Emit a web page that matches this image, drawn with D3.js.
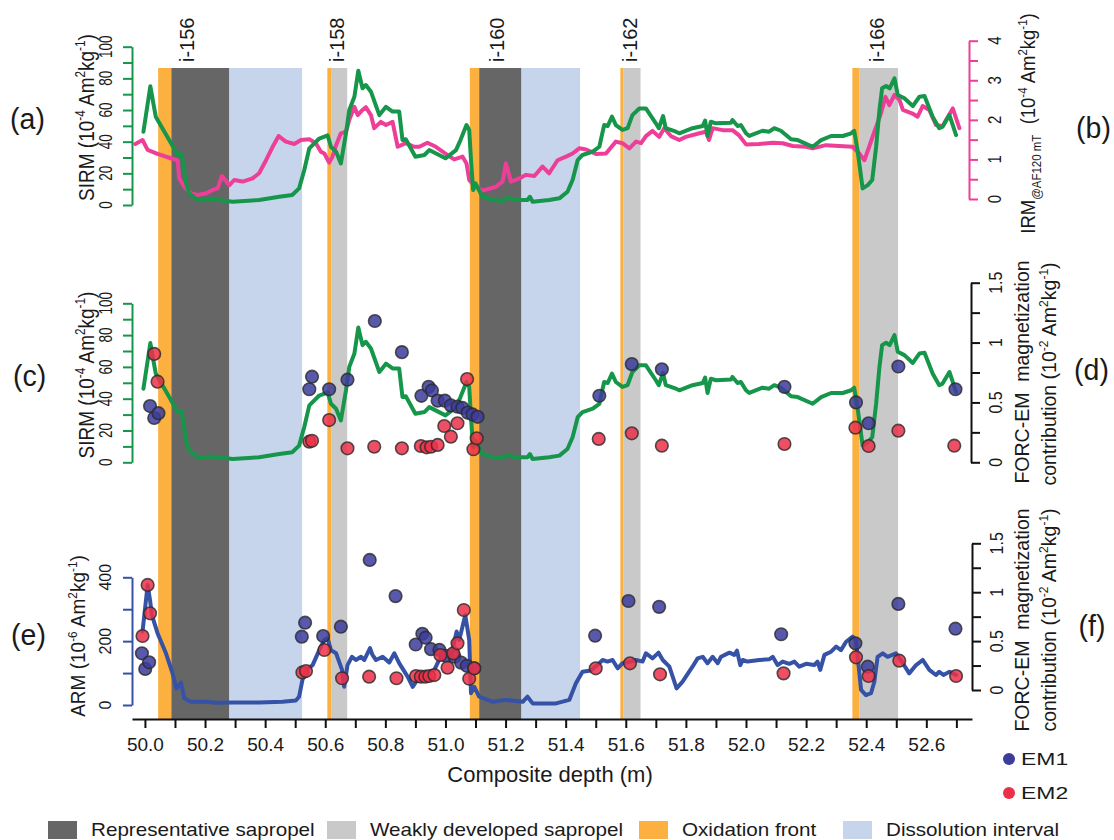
<!DOCTYPE html>
<html>
<head>
<meta charset="utf-8">
<script src="https://cdn.jsdelivr.net/npm/d3@7"></script>
<style>
  body { margin: 0; background: #fff; }
  svg { display: block; }
  text { font-family: "Liberation Sans", Arial, sans-serif; fill: #1a1a1a; white-space: pre; }
</style>
</head>
<body>
<svg id="chart" width="1114" height="840"></svg>
<script>
// ---- shaded intervals (composite depth, m) ----
const oxidationFronts = [[50.044, 50.0875], [50.607, 50.62], [51.081, 51.112], [51.582, 51.592], [52.354, 52.377]];
const representativeSapropels = [[50.0875, 50.28], [51.112, 51.252]];
const weakSapropels = [[50.62, 50.673], [51.592, 51.649], [52.377, 52.506]];
const dissolutionIntervals = [[50.28, 50.523], [51.252, 51.448]];
const intervalNames = ["i-156", "i-158", "i-160", "i-162", "i-166"];
const intervalNameDepths = [50.14, 50.64, 51.172, 51.615, 52.437];

// ---- SIRM (10^-4 Am2/kg), panels a and c ----
const sirm = [
  [49.995, 46.3], [50.018, 75], [50.036, 55.8], [50.087, 39], [50.109, 31.6], [50.122, 32.2], [50.136, 14.7],
  [50.147, 7.4], [50.175, 3.2], [50.225, 3.6], [50.292, 2.1], [50.38, 3.2], [50.447, 5.2], [50.49, 6.3],
  [50.513, 10.5], [50.53, 22], [50.547, 35.8], [50.58, 42], [50.608, 44], [50.619, 36.8], [50.636, 33.7],
  [50.652, 26.3], [50.669, 45.3], [50.68, 60], [50.697, 68.4], [50.71, 84.8], [50.724, 73.7], [50.735, 75.8],
  [50.752, 71.6], [50.78, 56.8], [50.802, 62], [50.824, 59], [50.846, 59], [50.857, 41], [50.868, 41.5],
  [50.9, 30.5], [50.93, 31.6], [50.946, 34.7], [51.0, 29.5], [51.035, 34.7], [51.05, 41], [51.07, 50.5],
  [51.079, 47.4], [51.085, 28.4], [51.092, 9.5], [51.1, 13.7], [51.123, 5.2], [51.157, 3.2], [51.19, 2.7],
  [51.207, 4.6], [51.235, 3.2], [51.273, 3.2], [51.281, 5.2], [51.29, 2.1], [51.345, 3.2], [51.379, 4.2],
  [51.406, 8.4], [51.423, 15.8], [51.44, 28.4], [51.456, 31.6], [51.49, 33.7], [51.512, 36.8], [51.528, 50.5],
  [51.54, 49.9], [51.554, 55.8], [51.567, 50.5], [51.589, 47.4], [51.606, 48.5], [51.622, 56.8], [51.645, 61],
  [51.667, 61], [51.7, 51.6], [51.71, 48.5], [51.724, 56.2], [51.733, 48.5], [51.767, 46.3], [51.778, 45.3],
  [51.822, 48.5], [51.856, 49.9], [51.864, 53.3], [51.872, 43.6], [51.883, 52.6], [51.9, 51.6], [51.95, 52],
  [51.955, 53.7], [51.972, 49.9], [51.983, 50.5], [52.0, 45.3], [52.011, 43.6], [52.055, 46.9], [52.077, 46.3],
  [52.094, 48.5], [52.116, 46.9], [52.15, 41.5], [52.172, 41], [52.222, 36.8], [52.25, 41], [52.283, 43.6],
  [52.322, 43.6], [52.35, 45.3], [52.36, 46.9], [52.371, 34.7], [52.388, 10.5], [52.405, 12.6], [52.42, 15.8],
  [52.433, 36.8], [52.444, 60], [52.453, 73.7], [52.466, 75.2], [52.478, 73.7], [52.494, 80], [52.505, 69.5],
  [52.527, 67.4], [52.555, 62.5], [52.577, 68.4], [52.594, 68.9], [52.621, 55.8], [52.643, 48.5], [52.654, 49.5],
  [52.677, 56.8], [52.699, 44.2]
];

// ---- IRM @AF120 mT (10^-4 Am2/kg), panel b ----
const irm = [
  [49.968, 1.39], [49.992, 1.49], [50.009, 1.24], [50.042, 1.14], [50.086, 1.03], [50.109, 0.98], [50.114, 0.52],
  [50.131, 0.31], [50.153, 0.14], [50.175, 0.10], [50.203, 0.14], [50.225, 0.23], [50.242, 0.27], [50.256, 0.58],
  [50.281, 0.35], [50.297, 0.48], [50.325, 0.44], [50.358, 0.52], [50.38, 0.65], [50.403, 0.98], [50.425, 1.32],
  [50.445, 1.59], [50.469, 1.45], [50.497, 1.39], [50.519, 1.49], [50.547, 1.51], [50.569, 1.41], [50.586, 1.19],
  [50.597, 1.15], [50.613, 0.92], [50.624, 1.07], [50.636, 1.36], [50.652, 1.66], [50.669, 1.70], [50.68, 2.0],
  [50.697, 2.33], [50.708, 2.12], [50.724, 2.25], [50.735, 2.32], [50.752, 2.12], [50.763, 1.79], [50.785, 1.95],
  [50.802, 1.87], [50.824, 1.95], [50.841, 1.32], [50.868, 1.41], [50.896, 1.32], [50.913, 1.32], [50.94, 1.42],
  [50.968, 1.32], [51.007, 1.11], [51.029, 1.0], [51.057, 1.07], [51.07, 0.9], [51.079, 0.48], [51.101, 0.31],
  [51.123, 0.21], [51.168, 0.31], [51.19, 0.44], [51.201, 0.9], [51.218, 0.44], [51.246, 0.52], [51.268, 0.61],
  [51.296, 0.58], [51.323, 0.82], [51.345, 0.65], [51.373, 0.98], [51.401, 1.07], [51.423, 1.15], [51.445, 1.28],
  [51.468, 1.25], [51.501, 1.14], [51.534, 1.15], [51.567, 1.45], [51.589, 1.41], [51.612, 1.28], [51.634, 1.45],
  [51.651, 1.41], [51.667, 1.59], [51.689, 1.72], [51.711, 1.57], [51.728, 1.79], [51.75, 1.59], [51.778, 1.49],
  [51.8, 1.57], [51.845, 1.66], [51.867, 1.70], [51.877, 1.49], [51.889, 1.79], [51.922, 1.74], [51.955, 1.74],
  [51.978, 1.6], [52.0, 1.38], [52.044, 1.39], [52.089, 1.42], [52.122, 1.41], [52.155, 1.34], [52.2, 1.32],
  [52.222, 1.28], [52.266, 1.36], [52.31, 1.34], [52.355, 1.32], [52.377, 1.15], [52.394, 0.98], [52.41, 1.32],
  [52.427, 1.70], [52.449, 2.16], [52.464, 2.58], [52.477, 2.37], [52.494, 2.63], [52.511, 2.5], [52.522, 2.25],
  [52.554, 2.16], [52.571, 2.08], [52.588, 2.35], [52.61, 2.25], [52.632, 1.87], [52.654, 1.84], [52.688, 2.29],
  [52.71, 1.79]
];

// ---- ARM (10^-6 Am2/kg), panel e ----
const arm = [
  [49.992, 230], [50.0, 298], [50.009, 376], [50.017, 329], [50.023, 282], [50.042, 225], [50.07, 162],
  [50.092, 99], [50.105, 52], [50.12, 70], [50.131, 21], [50.153, 10], [50.203, 10], [50.236, 7], [50.292, 8],
  [50.38, 8], [50.458, 10], [50.502, 14], [50.513, 26], [50.524, 78], [50.536, 110], [50.558, 125], [50.58, 172],
  [50.597, 204], [50.608, 209], [50.619, 172], [50.636, 162], [50.656, 110], [50.663, 57], [50.674, 125],
  [50.689, 151], [50.702, 141], [50.719, 151], [50.73, 141], [50.749, 178], [50.757, 157], [50.769, 141],
  [50.791, 151], [50.813, 133], [50.83, 162], [50.846, 131], [50.874, 89], [50.891, 57], [50.913, 89],
  [50.935, 99], [50.963, 110], [50.979, 141], [50.996, 162], [51.018, 151], [51.037, 230], [51.046, 204],
  [51.066, 282], [51.079, 204], [51.085, 37], [51.096, 57], [51.112, 26], [51.157, 10], [51.201, 16],
  [51.257, 10], [51.273, 26], [51.29, 5], [51.368, 5], [51.412, 16], [51.434, 68], [51.456, 104], [51.484, 108],
  [51.512, 131], [51.523, 141], [51.539, 136], [51.556, 141], [51.573, 115], [51.589, 131], [51.617, 136],
  [51.634, 141], [51.656, 136], [51.667, 162], [51.689, 146], [51.709, 164], [51.723, 141], [51.745, 120],
  [51.769, 52], [51.789, 73], [51.822, 120], [51.839, 146], [51.856, 151], [51.872, 131], [51.889, 151],
  [51.906, 131], [51.917, 151], [51.945, 164], [51.961, 157], [51.97, 170], [51.981, 125], [51.989, 141],
  [52.005, 136], [52.044, 141], [52.077, 143], [52.089, 151], [52.105, 125], [52.122, 136], [52.144, 129],
  [52.161, 136], [52.177, 120], [52.2, 129], [52.227, 125], [52.238, 136], [52.247, 110], [52.261, 157],
  [52.283, 167], [52.3, 183], [52.316, 172], [52.333, 198], [52.355, 214], [52.366, 204], [52.375, 120],
  [52.383, 47], [52.399, 31], [52.416, 37], [52.427, 73], [52.438, 151], [52.455, 162], [52.471, 151],
  [52.499, 162], [52.522, 131], [52.543, 99], [52.566, 125], [52.588, 141], [52.61, 110], [52.632, 94],
  [52.643, 104], [52.657, 94], [52.677, 104], [52.699, 94]
];

// ---- FORC end-member contributions (10^-2 Am2/kg) ----
const em1Sirm = [
  [50.017, 0.47], [50.031, 0.37], [50.045, 0.41], [50.547, 0.61], [50.556, 0.715], [50.613, 0.61], [50.674, 0.69],
  [50.765, 1.18], [50.855, 0.92], [50.92, 0.555], [50.944, 0.63], [50.955, 0.60], [50.974, 0.515], [50.998, 0.515],
  [51.018, 0.475], [51.04, 0.465], [51.056, 0.455], [51.074, 0.415], [51.09, 0.40], [51.107, 0.38], [51.512, 0.556],
  [51.62, 0.82], [51.72, 0.777], [52.128, 0.63], [52.366, 0.50], [52.408, 0.326], [52.507, 0.80], [52.697, 0.61]
];
const em2Sirm = [
  [50.031, 0.905], [50.042, 0.673], [50.547, 0.172], [50.556, 0.18], [50.613, 0.353], [50.674, 0.117],
  [50.763, 0.13], [50.855, 0.117], [50.918, 0.136], [50.937, 0.125], [50.952, 0.13], [50.974, 0.145],
  [50.996, 0.303], [51.018, 0.214], [51.04, 0.326], [51.072, 0.695], [51.093, 0.109], [51.104, 0.20],
  [51.51, 0.195], [51.62, 0.242], [51.72, 0.139], [52.128, 0.153], [52.364, 0.289], [52.408, 0.136],
  [52.507, 0.264], [52.693, 0.139]
];
const em1Arm = [
  [49.99, 0.375], [50.001, 0.215], [50.014, 0.283], [50.522, 0.545], [50.533, 0.688], [50.593, 0.552],
  [50.652, 0.647], [50.748, 1.33], [50.834, 0.96], [50.901, 0.465], [50.923, 0.575], [50.934, 0.535],
  [50.952, 0.417], [50.98, 0.41], [51.001, 0.35], [51.03, 0.34], [51.052, 0.28], [51.071, 0.247], [51.095, 0.222],
  [51.498, 0.555], [51.609, 0.91], [51.711, 0.85], [52.117, 0.57], [52.364, 0.477], [52.405, 0.238],
  [52.507, 0.88], [52.697, 0.627]
];
const em2Arm = [
  [49.992, 0.552], [50.009, 1.074], [50.017, 0.784], [50.524, 0.18], [50.536, 0.194], [50.597, 0.409],
  [50.656, 0.12], [50.746, 0.136], [50.837, 0.12], [50.902, 0.143], [50.918, 0.136], [50.933, 0.136],
  [50.946, 0.143], [50.963, 0.153], [50.983, 0.358], [51.007, 0.228], [51.026, 0.375], [51.04, 0.477],
  [51.061, 0.818], [51.079, 0.115], [51.096, 0.222], [51.5, 0.222], [51.614, 0.273], [51.714, 0.16],
  [52.125, 0.17], [52.366, 0.334], [52.408, 0.143], [52.51, 0.30], [52.699, 0.143]
];

// ---- ticks ----
const depthTicks = [50.0, 50.1, 50.2, 50.3, 50.4, 50.5, 50.6, 50.7, 50.8, 50.9, 51.0, 51.1, 51.2, 51.3,
  51.4, 51.5, 51.6, 51.7, 51.8, 51.9, 52.0, 52.1, 52.2, 52.3, 52.4, 52.5, 52.6, 52.7];
const depthLabels = ["50.0", "50.2", "50.4", "50.6", "50.8", "51.0", "51.2", "51.4", "51.6", "51.8",
  "52.0", "52.2", "52.4", "52.6"];
const sirmTicks = [0, 10, 20, 30, 40, 50, 60, 70, 80, 90, 100];
const sirmLabels = [0, 20, 40, 60, 80, 100];
const irmTicks = [0, 0.5, 1, 1.5, 2, 2.5, 3, 3.5, 4];
const irmLabels = [0, 1, 2, 3, 4];
const forcTicks = [0, 0.25, 0.5, 0.75, 1, 1.25, 1.5];
const forcLabels = ["0", "0.5", "1", "1.5"];
const armTicks = [0, 100, 200, 300, 400];
const armLabels = [0, 200, 400];

const colors = {
  sirm: "#15964a", irm: "#ee3f98", arm: "#3552a6", black: "#111",
  em1: "#3c3c9c", em2: "#ec3049",
  oxidation: "#fbb040", sapropel: "#666666", weak: "#c9c9c9", dissolution: "#c6d4ec"
};

const svg = d3.select("#chart");
const x = d3.scaleLinear().domain([49.957, 52.752]).range([132, 972]);
const bandTop = 68, bandBottom = 719;

// text helper: parts are strings or [string, "sup" | "sub"]
const addText = (parent, o) => {
  const size = o.size;
  const base = o.central === false ? 0 : 0.35 * size;
  const t = parent.append("text")
    .attr("transform", `translate(${o.x},${o.y}) scale(${o.kx || 1},1) rotate(${o.rot || 0})`)
    .attr("text-anchor", o.anchor || "middle")
    .style("font-size", size + "px");
  let shift = 0;
  (o.parts || [o.text]).forEach((p, i) => {
    const [str, kind] = Array.isArray(p) ? p : [p, null];
    const target = kind === "sup" ? -0.4 * size : kind === "sub" ? 0.3 * size : 0;
    t.append("tspan")
      .attr("dy", (i === 0 ? base : 0) + target - shift)
      .style("font-size", kind ? (0.62 * size) + "px" : null)
      .text(str);
    shift = target;
  });
  return t;
};

// ---- interval shading ----
const bandLayer = svg.append("g");
const drawBands = (list, color) => {
  bandLayer.selectAll(null).data(list).enter().append("rect")
    .attr("x", d => x(d[0]))
    .attr("width", d => x(d[1]) - x(d[0]))
    .attr("y", bandTop)
    .attr("height", bandBottom - bandTop)
    .attr("fill", color);
};
drawBands(dissolutionIntervals, colors.dissolution);
drawBands(representativeSapropels, colors.sapropel);
drawBands(weakSapropels, colors.weak);
drawBands(oxidationFronts, colors.oxidation);

intervalNames.forEach((name, i) => {
  addText(svg, { x: x(intervalNameDepths[i]), y: 62, rot: -90, size: 20, anchor: "start", text: name });
});

// ---- axis helper ----
const drawAxis = (scale, side, xPos, values, color) => {
  const axis = (side === "left" ? d3.axisLeft(scale) : d3.axisRight(scale))
    .tickValues(values).tickSize(9).tickSizeOuter(0).tickFormat("");
  const a = svg.append("g").attr("transform", `translate(${xPos},0)`).call(axis);
  a.select(".domain").attr("stroke", color).attr("stroke-width", 2);
  a.selectAll(".tick line").attr("stroke", color).attr("stroke-width", 2);
};
const tickLabels = (scale, values, xPos, size, kx) => {
  values.forEach(v => addText(svg, { x: xPos, y: scale(+v), rot: -90, size, kx, text: String(v) }));
};

const lineOf = (y) => d3.line().x(d => x(d[0])).y(d => y(d[1])).curve(d3.curveLinear);
const drawLine = (data, y, color) => {
  svg.append("path").datum(data)
    .attr("d", lineOf(y))
    .attr("fill", "none")
    .attr("stroke", color)
    .attr("stroke-width", 4)
    .attr("stroke-linejoin", "round")
    .attr("stroke-linecap", "round");
};
const drawPoints = (data, y, color) => {
  svg.append("g").selectAll("circle").data(data).enter().append("circle")
    .attr("cx", d => x(d[0]))
    .attr("cy", d => y(d[1]))
    .attr("r", 6.3)
    .attr("fill", color)
    .attr("fill-opacity", 0.85)
    .attr("stroke", "#2a2a2a")
    .attr("stroke-opacity", 0.8)
    .attr("stroke-width", 1.6);
};

const unitParts = (exp) => [" (10", [exp, "sup"], " Am", ["2", "sup"], "kg", ["-1", "sup"], ")"];

// ---- panel (a)/(b) ----
const ySirmA = d3.scaleLinear().domain([0, 100]).range([205, 46.7]);
const yIrm = d3.scaleLinear().domain([0, 4]).range([199, 40.7]);
drawLine(irm, yIrm, colors.irm);
drawLine(sirm, ySirmA, colors.sirm);
drawAxis(ySirmA, "left", 132, sirmTicks, colors.sirm);
tickLabels(ySirmA, sirmLabels, 106, 13.5, 1.35);
addText(svg, { x: 86, y: 117.5, rot: -90, size: 19, kx: 1.2, parts: ["SIRM", ...unitParts("-4")] });
drawAxis(yIrm, "right", 969, irmTicks, colors.irm);
tickLabels(yIrm, irmLabels, 995, 15, 1.2);
addText(svg, { x: 1028, y: 123.5, rot: -90, size: 18.5, kx: 1.1,
  parts: ["IRM", ["@AF120 mT", "sub"], "  (10", ["-4", "sup"], " Am", ["2", "sup"], "kg", ["-1", "sup"], ")"] });

// ---- panel (c)/(d) ----
const ySirmC = d3.scaleLinear().domain([0, 100]).range([462.3, 303.3]);
const yForcD = d3.scaleLinear().domain([0, 1.5]).range([462.3, 282.7]);
drawLine(sirm, ySirmC, colors.sirm);
drawPoints(em1Sirm, yForcD, colors.em1);
drawPoints(em2Sirm, yForcD, colors.em2);
drawAxis(ySirmC, "left", 132, sirmTicks, colors.sirm);
tickLabels(ySirmC, sirmLabels, 106, 13.5, 1.35);
addText(svg, { x: 86.5, y: 375, rot: -90, size: 19, kx: 1.2, parts: ["SIRM", ...unitParts("-4")] });
drawAxis(yForcD, "right", 971, forcTicks, colors.black);
tickLabels(yForcD, forcLabels, 995.5, 16, 1.1);
addText(svg, { x: 1021.5, y: 372, rot: -90, size: 19.5, kx: 1.05, text: "FORC-EM  magnetization" });
addText(svg, { x: 1049, y: 374, rot: -90, size: 19.5, kx: 1.05, parts: ["contribution", ...unitParts("-2")] });

// ---- panel (e)/(f) ----
const yArm = d3.scaleLinear().domain([0, 400]).range([705, 577.3]);
const yForcF = d3.scaleLinear().domain([0, 1.5]).range([690, 543.3]);
drawLine(arm, yArm, colors.arm);
drawPoints(em1Arm, yForcF, colors.em1);
drawPoints(em2Arm, yForcF, colors.em2);
drawAxis(yArm, "left", 132, armTicks, colors.arm);
tickLabels(yArm, armLabels, 105, 16, 1.07);
addText(svg, { x: 78, y: 636, rot: -90, size: 19, kx: 1.1, parts: ["ARM", ...unitParts("-6")] });
drawAxis(yForcF, "right", 972, forcTicks, colors.black);
tickLabels(yForcF, forcLabels, 996.5, 16, 1.1);
addText(svg, { x: 1021.5, y: 620, rot: -90, size: 19.5, kx: 1.05, text: "FORC-EM  magnetization" });
addText(svg, { x: 1049, y: 620, rot: -90, size: 19.5, kx: 1.05, parts: ["contribution", ...unitParts("-2")] });

// ---- depth axis ----
const xAxis = svg.append("g").attr("transform", `translate(0,${bandBottom})`)
  .call(d3.axisBottom(x).tickValues(depthTicks).tickSize(9).tickSizeOuter(0)
    .tickFormat(d => depthLabels.includes(d.toFixed(1)) ? d.toFixed(1) : ""));
xAxis.select(".domain").attr("stroke", colors.black).attr("stroke-width", 2);
xAxis.selectAll(".tick line").attr("stroke", colors.black).attr("stroke-width", 2);
xAxis.selectAll(".tick text")
  .attr("y", 19)
  .style("font-size", "19px")
  .style("font-family", "'Liberation Sans', Arial, sans-serif")
  .attr("fill", "#1a1a1a");
addText(svg, { x: 550, y: 774, size: 22, text: "Composite depth (m)" });

// ---- panel letters ----
const panelLetters = ["(a)", "(b)", "(c)", "(d)", "(e)", "(f)"];
const letterPos = [[27.5, 118], [1093.5, 127], [29.5, 375], [1091.5, 369], [28.5, 634], [1092, 625]];
panelLetters.forEach((s, i) => addText(svg, { x: letterPos[i][0], y: letterPos[i][1], size: 30, kx: 0.95, text: s }));

// ---- EM legend ----
const emNames = ["EM1", "EM2"];
const emColors = [colors.em1, colors.em2];
emNames.forEach((s, i) => {
  const yy = 759 + i * 34;
  svg.append("circle").attr("cx", 1009).attr("cy", yy).attr("r", 6).attr("fill", emColors[i]);
  addText(svg, { x: 1021, y: yy, size: 17, kx: 1.35, anchor: "start", text: s });
});

// ---- interval legend ----
const legendNames = ["Representative sapropel", "Weakly developed sapropel", "Oxidation front", "Dissolution interval"];
const legendColors = [colors.sapropel, colors.weak, colors.oxidation, colors.dissolution];
const legendX = [48, 327, 639, 843];
legendNames.forEach((s, i) => {
  svg.append("rect").attr("x", legendX[i]).attr("y", 821).attr("width", 29).attr("height", 18)
    .attr("fill", legendColors[i]);
  addText(svg, { x: legendX[i] + 43, y: 830, size: 17.5, kx: 1.18, anchor: "start", text: s });
});
</script>
</body>
</html>
